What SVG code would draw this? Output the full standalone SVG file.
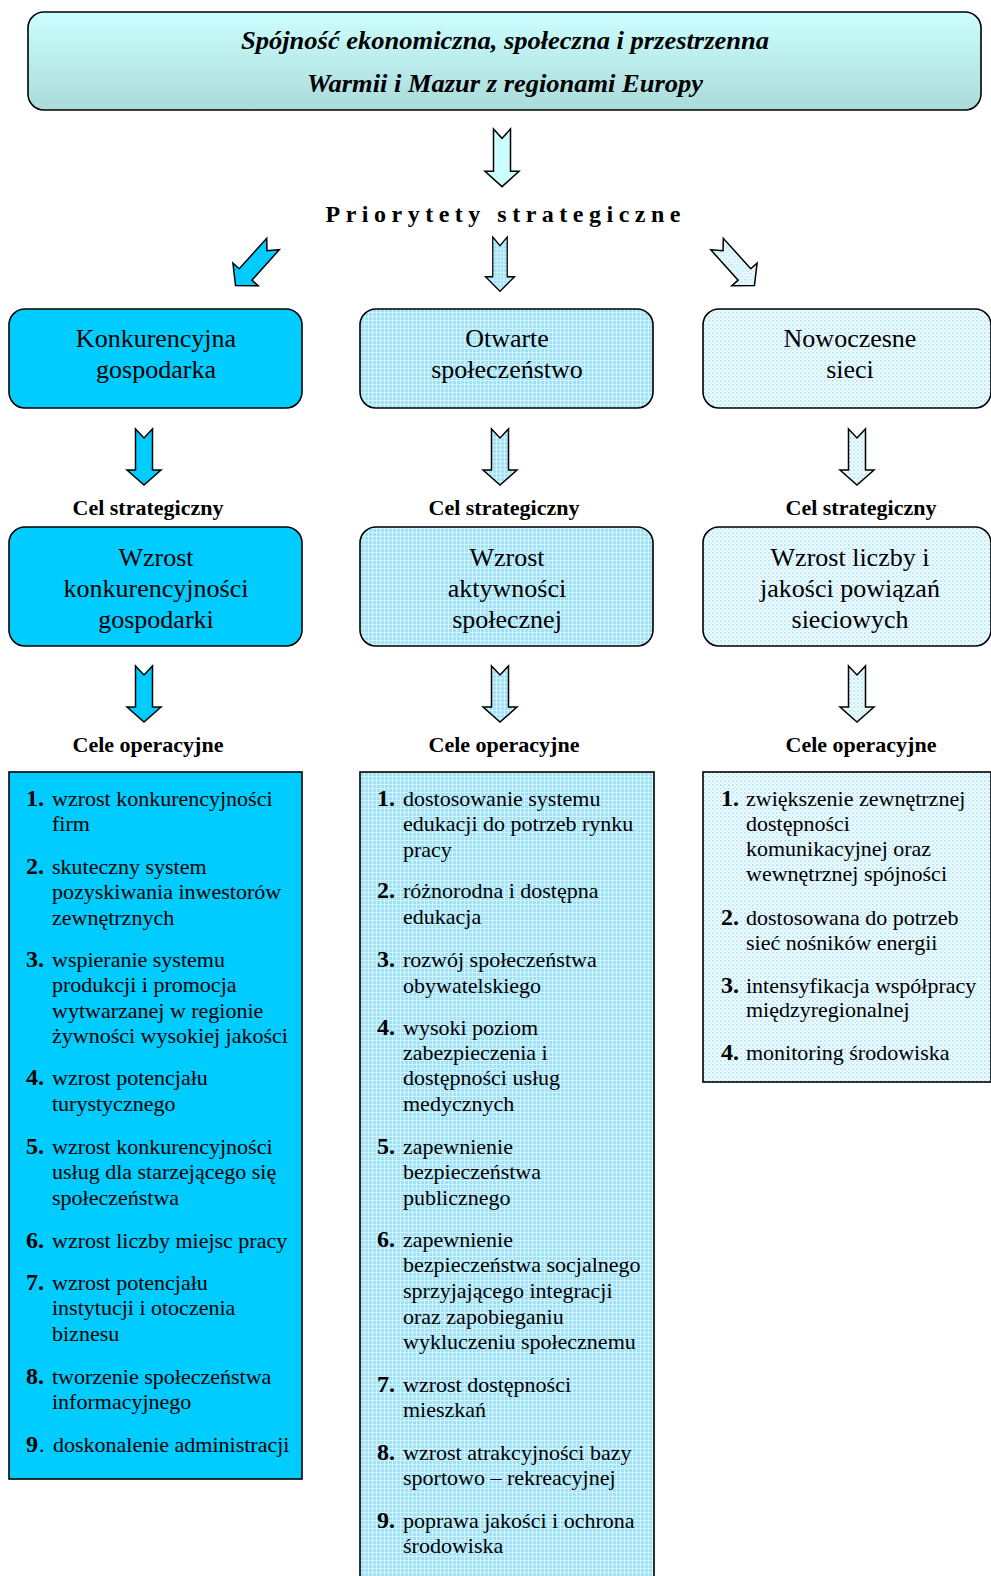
<svg xmlns="http://www.w3.org/2000/svg" width="991" height="1576" viewBox="0 0 991 1576">
<defs>
<linearGradient id="gTop" x1="0" y1="0" x2="0" y2="1">
<stop offset="0" stop-color="#CCFFFF"/>
<stop offset="1" stop-color="#ABDADA"/>
</linearGradient>
<pattern id="patMid" width="4" height="4" patternUnits="userSpaceOnUse">
<rect width="4" height="4" fill="#9FE2F7"/>
<rect width="4" height="1" fill="#D4F3FC"/>
<rect width="1" height="4" fill="#D4F3FC"/>
</pattern>
<pattern id="patRight" width="4" height="4" patternUnits="userSpaceOnUse">
<rect width="4" height="4" fill="#F2FBFE"/>
<rect x="0" y="0" width="2" height="2" fill="#BDEAF7"/>
<rect x="2" y="2" width="2" height="2" fill="#D6F2FA"/>
</pattern>
<path id="arr" d="M -8.5,0 L 0,9 L 8.5,0 L 8.5,41 L 17,41 L 0,56 L -17,41 L -8.5,41 Z"/>
</defs>
<style>
.box{stroke:#000;stroke-width:1.6}
.arrow{stroke:#000;stroke-width:1.5;stroke-linejoin:miter}
.t{font-family:"Liberation Serif","Times New Roman",serif;fill:#000}
.hd{font-size:26px;text-anchor:middle}
.lbl{font-size:22px;font-weight:bold;text-anchor:middle}
.li{font-size:22px}
.num{font-size:24px;font-weight:bold}
.c1{fill:#00CCFF}
.c2{fill:url(#patMid)}
.c3{fill:url(#patRight)}
</style>

<g id="top-node">
<rect class="box" x="28" y="12" width="953" height="98" rx="16" fill="url(#gTop)"/>
<text class="t" x="505" y="49" font-size="26" font-weight="bold" font-style="italic" text-anchor="middle" textLength="528" lengthAdjust="spacingAndGlyphs">Spójność ekonomiczna, społeczna i przestrzenna</text>
<text class="t" x="505" y="92" font-size="26" font-weight="bold" font-style="italic" text-anchor="middle" textLength="396" lengthAdjust="spacingAndGlyphs">Warmii i Mazur z regionami Europy</text>
</g>

<g id="priorytety-label">
<text class="t" x="503" y="222" font-size="24" font-weight="bold" text-anchor="middle" textLength="355" lengthAdjust="spacing">Priorytety strategiczne</text>
</g>

<g id="connectors">
<use href="#arr" class="arrow" fill="#CCFFFF" transform="translate(502,129) scale(1,1.03)"/>
<use href="#arr" class="arrow" fill="#00CCFF" transform="translate(273,244) rotate(42)"/>
<use href="#arr" class="arrow" fill="url(#patMid)" transform="translate(500,237) scale(0.85,0.97)"/>
<use href="#arr" class="arrow" fill="url(#patRight)" transform="translate(717,244) rotate(-42)"/>
<use href="#arr" class="arrow" fill="#00CCFF" transform="translate(144,429)"/>
<use href="#arr" class="arrow" fill="url(#patMid)" transform="translate(500,429)"/>
<use href="#arr" class="arrow" fill="url(#patRight)" transform="translate(857,429)"/>
<use href="#arr" class="arrow" fill="#00CCFF" transform="translate(144,666)"/>
<use href="#arr" class="arrow" fill="url(#patMid)" transform="translate(500,666)"/>
<use href="#arr" class="arrow" fill="url(#patRight)" transform="translate(857,666)"/>
</g>

<g id="prio-1">
<rect class="box c1" x="9" y="309" width="293" height="99" rx="16"/>
<text class="t hd" x="156" y="347">Konkurencyjna</text>
<text class="t hd" x="156" y="378">gospodarka</text>
</g>
<g id="prio-2">
<rect class="box c2" x="360" y="309" width="293" height="99" rx="16"/>
<text class="t hd" x="507" y="347">Otwarte</text>
<text class="t hd" x="507" y="378">społeczeństwo</text>
</g>
<g id="prio-3">
<rect class="box c3" x="703" y="309" width="288" height="99" rx="16"/>
<text class="t hd" x="850" y="347">Nowoczesne</text>
<text class="t hd" x="850" y="378">sieci</text>
</g>

<g id="cel-labels">
<text class="t lbl" x="148" y="515">Cel strategiczny</text>
<text class="t lbl" x="504" y="515">Cel strategiczny</text>
<text class="t lbl" x="861" y="515">Cel strategiczny</text>
</g>

<g id="cel-1">
<rect class="box c1" x="9" y="527" width="293" height="119" rx="16"/>
<text class="t hd" x="156" y="566">Wzrost</text>
<text class="t hd" x="156" y="597">konkurencyjności</text>
<text class="t hd" x="156" y="628">gospodarki</text>
</g>
<g id="cel-2">
<rect class="box c2" x="360" y="527" width="293" height="119" rx="16"/>
<text class="t hd" x="507" y="566">Wzrost</text>
<text class="t hd" x="507" y="597">aktywności</text>
<text class="t hd" x="507" y="628">społecznej</text>
</g>
<g id="cel-3">
<rect class="box c3" x="703" y="527" width="288" height="119" rx="16"/>
<text class="t hd" x="850" y="566">Wzrost liczby i</text>
<text class="t hd" x="850" y="597">jakości powiązań</text>
<text class="t hd" x="850" y="628">sieciowych</text>
</g>

<g id="oper-labels">
<text class="t lbl" x="148" y="752">Cele operacyjne</text>
<text class="t lbl" x="504" y="752">Cele operacyjne</text>
<text class="t lbl" x="861" y="752">Cele operacyjne</text>
</g>

<g id="oper-1">
<rect class="box c1" x="9" y="772" width="293" height="707"/>
<g class="t">
<text class="num" x="26" y="806">1.</text>
<text class="li" x="52" y="806">wzrost konkurencyjności</text>
<text class="li" x="52" y="831">firm</text>
<text class="num" x="26" y="874">2.</text>
<text class="li" x="52" y="874">skuteczny system</text>
<text class="li" x="52" y="899">pozyskiwania inwestorów</text>
<text class="li" x="52" y="925">zewnętrznych</text>
<text class="num" x="26" y="967">3.</text>
<text class="li" x="52" y="967">wspieranie systemu</text>
<text class="li" x="52" y="992">produkcji i promocja</text>
<text class="li" x="52" y="1018">wytwarzanej w regionie</text>
<text class="li" x="52" y="1043">żywności wysokiej jakości</text>
<text class="num" x="26" y="1085">4.</text>
<text class="li" x="52" y="1085">wzrost potencjału</text>
<text class="li" x="52" y="1111">turystycznego</text>
<text class="num" x="26" y="1154">5.</text>
<text class="li" x="52" y="1154">wzrost konkurencyjności</text>
<text class="li" x="52" y="1179">usług dla starzejącego się</text>
<text class="li" x="52" y="1205">społeczeństwa</text>
<text class="num" x="26" y="1248">6.</text>
<text class="li" x="52" y="1248">wzrost liczby miejsc pracy</text>
<text class="num" x="26" y="1290">7.</text>
<text class="li" x="52" y="1290">wzrost potencjału</text>
<text class="li" x="52" y="1315">instytucji i otoczenia</text>
<text class="li" x="52" y="1341">biznesu</text>
<text class="num" x="26" y="1384">8.</text>
<text class="li" x="52" y="1384">tworzenie społeczeństwa</text>
<text class="li" x="52" y="1409">informacyjnego</text>
<text class="num" x="26" y="1452">9</text>
<text class="li" x="39" y="1452">. <tspan x="53">doskonalenie administracji</tspan></text>
</g>
</g>

<g id="oper-2">
<rect class="box c2" x="360" y="772" width="294" height="820"/>
<g class="t">
<text class="num" x="377" y="806">1.</text>
<text class="li" x="403" y="806">dostosowanie systemu</text>
<text class="li" x="403" y="831">edukacji do potrzeb rynku</text>
<text class="li" x="403" y="857">pracy</text>
<text class="num" x="377" y="898">2.</text>
<text class="li" x="403" y="898">różnorodna i dostępna</text>
<text class="li" x="403" y="924">edukacja</text>
<text class="num" x="377" y="967">3.</text>
<text class="li" x="403" y="967">rozwój społeczeństwa</text>
<text class="li" x="403" y="993">obywatelskiego</text>
<text class="num" x="377" y="1035">4.</text>
<text class="li" x="403" y="1035">wysoki poziom</text>
<text class="li" x="403" y="1060">zabezpieczenia i</text>
<text class="li" x="403" y="1085">dostępności usług</text>
<text class="li" x="403" y="1111">medycznych</text>
<text class="num" x="377" y="1154">5.</text>
<text class="li" x="403" y="1154">zapewnienie</text>
<text class="li" x="403" y="1179">bezpieczeństwa</text>
<text class="li" x="403" y="1205">publicznego</text>
<text class="num" x="377" y="1247">6.</text>
<text class="li" x="403" y="1247">zapewnienie</text>
<text class="li" x="403" y="1272">bezpieczeństwa socjalnego</text>
<text class="li" x="403" y="1298">sprzyjającego integracji</text>
<text class="li" x="403" y="1324">oraz zapobieganiu</text>
<text class="li" x="403" y="1349">wykluczeniu społecznemu</text>
<text class="num" x="377" y="1392">7.</text>
<text class="li" x="403" y="1392">wzrost dostępności</text>
<text class="li" x="403" y="1417">mieszkań</text>
<text class="num" x="377" y="1460">8.</text>
<text class="li" x="403" y="1460">wzrost atrakcyjności bazy</text>
<text class="li" x="403" y="1485">sportowo – rekreacyjnej</text>
<text class="num" x="377" y="1528">9.</text>
<text class="li" x="403" y="1528">poprawa jakości i ochrona</text>
<text class="li" x="403" y="1553">środowiska</text>
</g>
</g>

<g id="oper-3">
<rect class="box c3" x="703" y="772" width="288" height="310"/>
<g class="t">
<text class="num" x="721" y="806">1.</text>
<text class="li" x="746" y="806">zwiększenie zewnętrznej</text>
<text class="li" x="746" y="831">dostępności</text>
<text class="li" x="746" y="856">komunikacyjnej oraz</text>
<text class="li" x="746" y="881">wewnętrznej spójności</text>
<text class="num" x="721" y="925">2.</text>
<text class="li" x="746" y="925">dostosowana do potrzeb</text>
<text class="li" x="746" y="950">sieć nośników energii</text>
<text class="num" x="721" y="993">3.</text>
<text class="li" x="746" y="993">intensyfikacja współpracy</text>
<text class="li" x="746" y="1017">międzyregionalnej</text>
<text class="num" x="721" y="1060">4.</text>
<text class="li" x="746" y="1060">monitoring środowiska</text>
</g>
</g>
</svg>
